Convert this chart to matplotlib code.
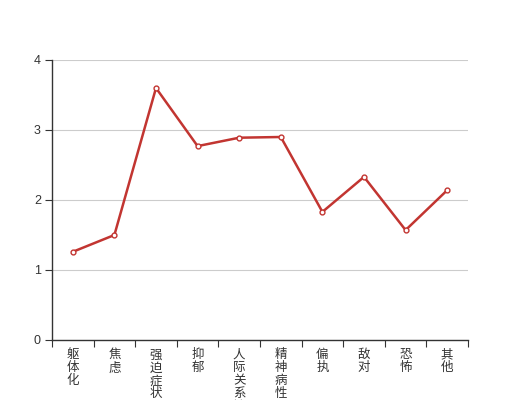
import matplotlib
matplotlib.use('Agg')
import matplotlib.pyplot as plt
import numpy as np

plt.rcParams['font.family'] = ['Noto Sans CJK SC', 'DejaVu Sans']

categories = ['躯体化', '焦虑', '强迫症状', '抑郁', '人际关系敏感',
              '精神病性', '偏执', '敌对', '恐怖', '其他']
values = [1.26, 1.50, 3.60, 2.77, 2.89, 2.90, 1.83, 2.33, 1.57, 2.14]
y_ticks = [0, 1, 2, 3, 4]

fig = plt.figure(figsize=(5.2, 4.0), dpi=100)
ax = fig.add_axes([0.1, 0.15, 0.8, 0.70])

n = len(categories)
x = np.arange(n)
ax.plot(x, values, color='#c23531', linewidth=1.8, marker='o', markersize=3.5,
        markerfacecolor='white', markeredgecolor='#c23531', markeredgewidth=1, zorder=3)

ax.set_xlim(-0.5, n - 0.5)
ax.set_ylim(0, 4)
ax.set_yticks(y_ticks)
ax.set_yticklabels([str(t) for t in y_ticks], family=['Liberation Sans', 'DejaVu Sans'])
ax.yaxis.grid(True, color='#cccccc', linewidth=0.8)
ax.set_axisbelow(True)

# category boundary ticks, labels at centres
ax.set_xticks(np.arange(n + 1) - 0.5)
ax.set_xticklabels([])
ax.set_xticks(x, minor=True)
ax.set_xticklabels(['\n'.join(c) for c in categories], minor=True,
                   fontsize=9, color='#333333', linespacing=1.0, va='top')
ax.tick_params(axis='x', which='minor', length=0, pad=6)
ax.tick_params(axis='x', which='major', length=5, color='#333333', direction='out')
ax.tick_params(axis='y', length=5, color='#333333', labelsize=9, labelcolor='#333333', pad=3)

for s in ['top', 'right']:
    ax.spines[s].set_visible(False)
for s in ['left', 'bottom']:
    ax.spines[s].set_color('#333333')
    ax.spines[s].set_linewidth(1)

fig.savefig('out.png', dpi=100)
